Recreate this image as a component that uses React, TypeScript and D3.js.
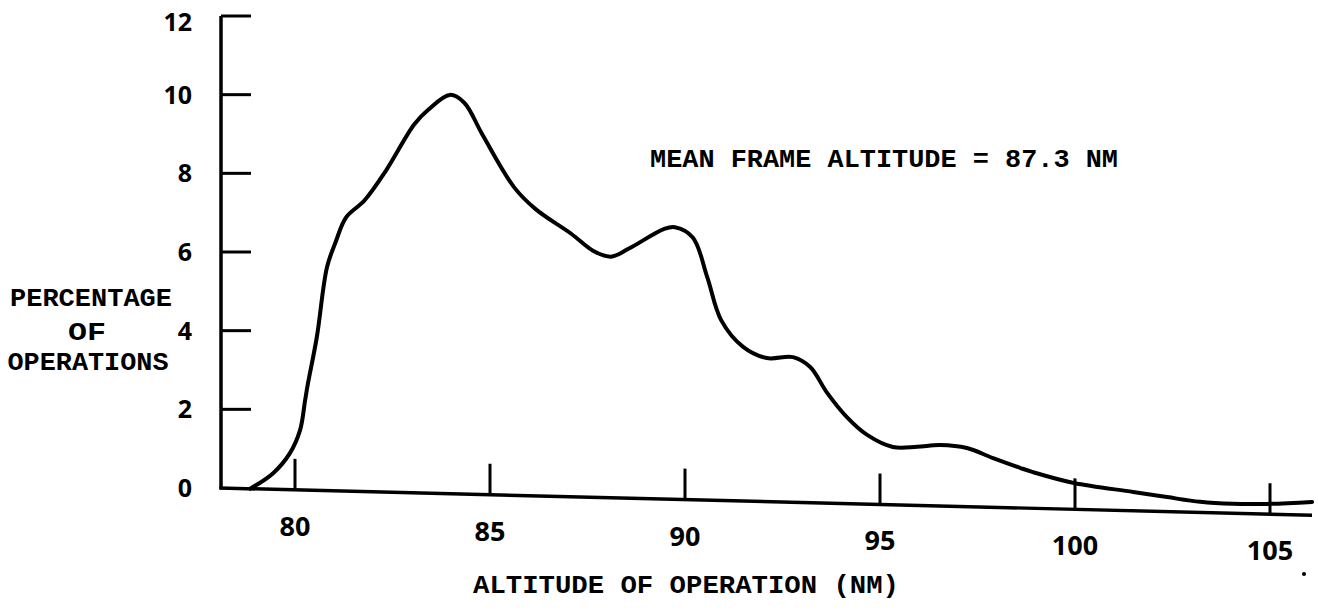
import React from 'react';
import * as d3 from 'd3';

// altitude (NM) vs percentage of operations
const altitudes = [78.85, 79.44, 79.87, 80.13, 80.26, 80.33, 80.56, 80.82, 81.04, 81.31, 81.78, 82.33, 83.06, 83.43, 83.97, 84.34, 84.8, 85.62, 86.17, 87.09, 87.64, 88.1, 88.55, 89.47, 89.74, 90.2, 90.57, 90.93, 91.49, 92.1, 92.77, 93.21, 93.64, 94.15, 94.67, 95.33, 95.95, 96.54, 97.23, 97.9, 98.59, 98.92, 99.97, 101.49, 102.36, 103.21, 104.05, 104.92, 106.08];
const percents = [0, 0.41, 0.93, 1.52, 2.29, 2.7, 3.9, 5.68, 6.32, 6.96, 7.4, 8.17, 9.37, 9.76, 10.14, 9.95, 9.16, 7.83, 7.29, 6.68, 6.27, 6.13, 6.34, 6.87, 6.92, 6.67, 5.67, 4.58, 3.92, 3.65, 3.69, 3.45, 2.81, 2.2, 1.76, 1.47, 1.49, 1.55, 1.49, 1.25, 1.02, 0.92, 0.67, 0.48, 0.37, 0.27, 0.24, 0.26, 0.34];

const xTicks = [80, 85, 90, 95, 100, 105];
const yTicks = [0, 2, 4, 6, 8, 10, 12];
const yLabelLines = ['PERCENTAGE', 'OF', 'OPERATIONS'];
const xTitle = 'ALTITUDE OF OPERATION (NM)';
const note = 'MEAN FRAME ALTITUDE = 87.3 NM';

const W = 1318;
const H = 611;
const axisX = 221;
const axisEnd = 1312;
const slope = 0.025; // the hand drawn x axis runs downhill

const typeFont = "'Liberation Mono', monospace";
const numFont = "'Open Sans', sans-serif";

const App: React.FC = () => {
  const x = d3.scaleLinear().domain([80, 105]).range([295, 1270]);
  const y = d3.scaleLinear().domain([0, 12]).range([488, 16]);

  const pts = altitudes.map((a, i) => [a, percents[i]] as [number, number]);
  const line = d3.line<[number, number]>()
    .x(d => x(d[0]))
    .y(d => y(d[1]))
    .curve(d3.curveCatmullRom.alpha(0.5));

  const base = (px: number) => y(0) + slope * (px - axisX);

  return (
    <svg width={W} height={H} style={{ position: 'absolute', left: 0, top: 0, background: '#fff' }}>
      {/* y axis */}
      <line x1={axisX} x2={axisX} y1={y(12)} y2={y(0) + 1.5} stroke="#000" strokeWidth={3.5} />
      {yTicks.filter(t => t > 0).map(t => (
        <line key={t} x1={axisX} x2={axisX + 30} y1={y(t)} y2={y(t)} stroke="#000" strokeWidth={3} />
      ))}
      {yTicks.map(t => (
        <text key={t} x={192} y={Math.max(y(t), 22)} dy="0.36em" textAnchor="end"
          fontFamily={numFont} fontWeight={700} fontSize={25} fill="#000">{t}</text>
      ))}

      {/* skewed x axis, ticks and curve */}
      <g transform={`matrix(1, ${slope}, 0, 1, 0, ${-slope * axisX})`}>
        <line x1={axisX - 1.5} x2={axisEnd} y1={y(0)} y2={y(0)} stroke="#000" strokeWidth={3.5} />
        {xTicks.map(t => (
          <line key={t} x1={x(t)} x2={x(t)} y1={y(0)} y2={y(0) - 31} stroke="#000" strokeWidth={3} />
        ))}
        <path d={line(pts) || ''} fill="none" stroke="#000" strokeWidth={4} strokeLinejoin="round" strokeLinecap="round" />
      </g>

      {xTicks.map(t => (
        <text key={t} x={x(t)} y={base(x(t)) + 46} textAnchor="middle"
          fontFamily={numFont} fontWeight={700} fontSize={27} fill="#000">{t}</text>
      ))}

      {/* titles, typewritten */}
      <g fontFamily={typeFont} fontWeight="bold" fontSize={26} fill="#000">
        <text x={91} y={306} textAnchor="middle" textLength={162} lengthAdjust="spacingAndGlyphs">{yLabelLines[0]}</text>
        <text x={87} y={340} textAnchor="middle" textLength={38} lengthAdjust="spacingAndGlyphs">{yLabelLines[1]}</text>
        <text x={88} y={370} textAnchor="middle" textLength={161} lengthAdjust="spacingAndGlyphs">{yLabelLines[2]}</text>
        <text x={473} y={593} textLength={426} lengthAdjust="spacingAndGlyphs">{xTitle}</text>
        <text x={650} y={167} textLength={468} lengthAdjust="spacingAndGlyphs">{note}</text>
      </g>

      <circle cx={1304} cy={574} r={2} fill="#000" />
    </svg>
  );
};

export default App;
